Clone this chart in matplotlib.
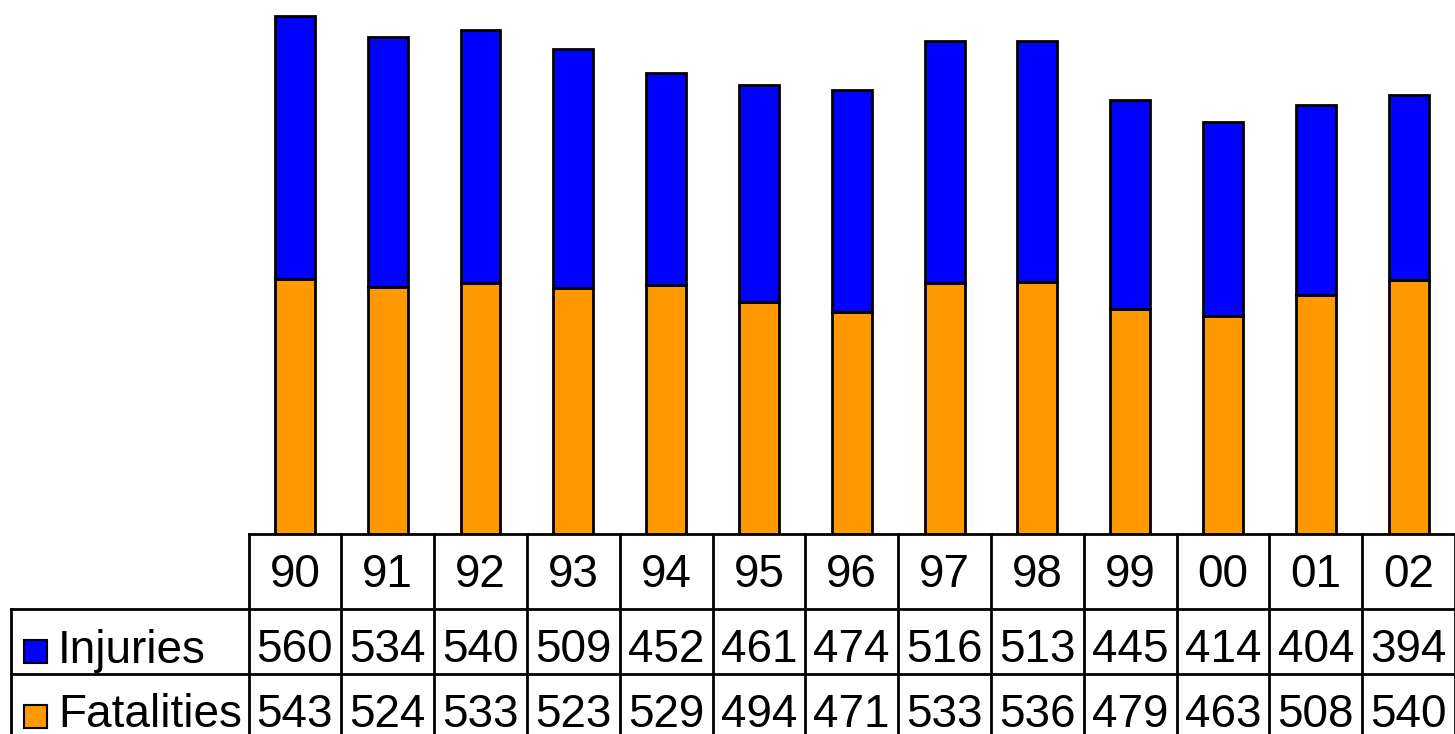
import numpy as np
import matplotlib.pyplot as plt

plt.rcParams['font.family'] = ['Liberation Sans', 'DejaVu Sans']

# data
years = ['90', '91', '92', '93', '94', '95', '96', '97', '98', '99', '00', '01', '02']
injuries = [560, 534, 540, 509, 452, 461, 474, 516, 513, 445, 414, 404, 394]
fatalities = [543, 524, 533, 523, 529, 494, 471, 533, 536, 479, 463, 508, 540]

W, H = 1455, 734
fig = plt.figure(figsize=(W / 100, H / 100), dpi=100)

# table geometry in pixels
x0 = 248.5          # left edge of first year column
cw = (W - x0) / len(years)
y_top = 533.5       # top of year row / bar baseline
y_inj = 609
y_fat = 674
label_left = 11

# bar axes
ax = fig.add_axes([x0 / W, 1 - y_top / H, (len(years) * cw) / W, y_top / H])
index = np.arange(len(years))
bw = 0.43
ax.bar(index, fatalities, bw, color='#FF9900', edgecolor='black', linewidth=2)
ax.bar(index, injuries, bw, bottom=fatalities, color='#0000FF', edgecolor='black', linewidth=2)
ax.set_xlim(-0.5, len(years) - 0.5)
ax.set_ylim(0, y_top / 0.4696)
ax.axis('off')

# table axes (pixel coordinates)
tb = fig.add_axes([0, 0, 1, 1])
tb.set_xlim(0, W)
tb.set_ylim(H, 0)
tb.axis('off')

lw = 2
x_right = x0 + len(years) * cw
# horizontal lines
tb.plot([x0, x_right], [y_top, y_top], color='black', lw=lw)
tb.plot([label_left, x_right], [y_inj, y_inj], color='black', lw=lw)
tb.plot([label_left, x_right], [y_fat, y_fat], color='black', lw=lw)
# vertical lines
for i in range(len(years) + 1):
    tb.plot([x0 + i * cw] * 2, [y_top, H + 5], color='black', lw=lw)
tb.plot([label_left, label_left], [y_inj, H + 5], color='black', lw=lw)

fs = 33
for i in range(len(years)):
    cx = x0 + (i + 0.5) * cw
    tb.text(cx, 587, years[i], ha='center', va='baseline', fontsize=fs)
    tb.text(cx, 662, str(injuries[i]), ha='center', va='baseline', fontsize=fs)
    tb.text(cx, 727, str(fatalities[i]), ha='center', va='baseline', fontsize=fs)

# legend keys
for yc, base, col, lab in [(651, 663, '#0000FF', 'Injuries'), (716, 727, '#FF9900', 'Fatalities')]:
    tb.add_patch(plt.Rectangle((24, yc - 11.5), 23, 23, facecolor=col,
                               edgecolor='black', lw=1.5))
    tb.text(58, base, lab, ha='left', va='baseline', fontsize=fs)

fig.savefig('out.png', dpi=100)
